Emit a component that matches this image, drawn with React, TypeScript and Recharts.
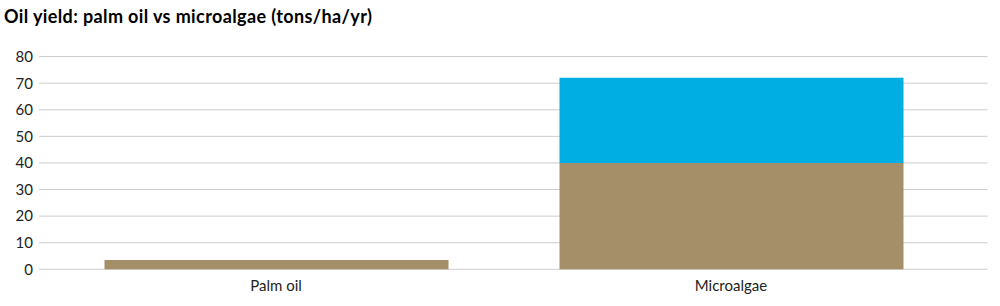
import React from "react";
import { BarChart, Bar, XAxis, YAxis, CartesianGrid } from "recharts";

const categories = ["Palm oil", "Microalgae"];
const baseValues = [3.5, 40];
const extraValues = [0, 32];
const yTicks = [0, 10, 20, 30, 40, 50, 60, 70, 80];
const title = "Oil yield: palm oil vs microalgae (tons/ha/yr)";

const data = categories.map((name, i) => ({
  name,
  base: baseValues[i],
  extra: extraValues[i],
}));

const FONT = "Lato, 'Noto Sans', sans-serif";

export default function App() {
  return (
    <div style={{ position: "absolute", left: 0, top: 0, width: 1000, height: 306, background: "#fff" }}>
      <div
        style={{
          position: "absolute",
          left: 4,
          top: 5,
          fontFamily: FONT,
          fontWeight: 700,
          fontSize: 18,
          letterSpacing: 0.38,
          color: "#000",
          whiteSpace: "nowrap",
        }}
      >
        {title}
      </div>
      <BarChart
        width={1000}
        height={306}
        data={data}
        margin={{ top: 56.6, right: 12.5, bottom: 6.7, left: 0 }}
        style={{ position: "absolute", left: 0, top: 0 }}
      >
        <CartesianGrid vertical={false} stroke="#cccccc" />
        <XAxis
          dataKey="name"
          height={30}
          axisLine={false}
          tickLine={false}
          tickSize={0}
          tickMargin={11.5}
          padding={{ left: 9.5, right: 29 }}
          tick={{ fill: "#222", fontSize: 15, fontFamily: FONT }}
        />
        <YAxis
          width={39}
          domain={[0, 80]}
          ticks={yTicks}
          axisLine={false}
          tickLine={false}
          tickSize={0}
          tickMargin={6}
          tick={{ fill: "#222", fontSize: 15, fontFamily: FONT }}
        />
        <Bar dataKey="base" stackId="a" fill="#A58F68" barSize={344} isAnimationActive={false} />
        <Bar dataKey="extra" stackId="a" fill="#00AEE3" barSize={344} isAnimationActive={false} />
      </BarChart>
    </div>
  );
}
